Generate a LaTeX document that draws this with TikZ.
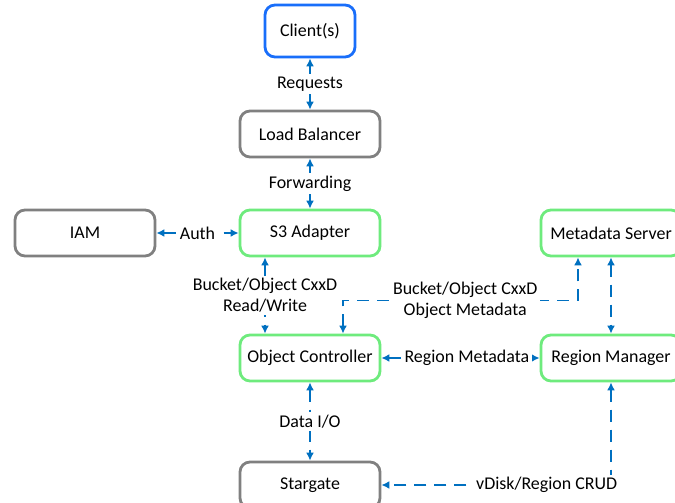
\documentclass[tikz,border=0pt]{standalone}
\usepackage{fontspec}
\setmainfont{Carlito}
\usetikzlibrary{arrows.meta}
\definecolor{linkblue}{RGB}{0,112,192}
\definecolor{boxgrey}{RGB}{128,128,128}
\definecolor{boxgreen}{RGB}{110,235,125}
\definecolor{boxblue}{RGB}{25,110,250}

\begin{document}
\begin{tikzpicture}[x=1bp, y=-1bp, font=\fontsize{18}{21}\selectfont,
  box/.style={draw, rounded corners=10bp, line width=2.8bp, minimum width=140bp,
    minimum height=46bp, inner sep=0pt, fill=white},
  greybox/.style={box, draw=boxgrey},
  greenbox/.style={box, draw=boxgreen},
  link/.style={linkblue, line width=1.7bp, dash pattern=on 12bp off 8bp,
    {Latex[length=8bp,width=8bp]}-{Latex[length=8bp,width=8bp]}},
  shortlink/.style={link, solid},
  lbl/.style={fill=white, inner sep=2.5bp, align=center, text=black}]
% Canvas
\useasboundingbox[fill=white] (0,0) rectangle (675,503);

% The boxes
\node[box, draw=boxblue, minimum width=90bp, minimum height=52bp] (client) at (310,31) {Client(s)};
\node[greybox] (lb) at (310,134) {Load Balancer};
\node[greybox] (iam) at (85,233) {IAM};
\node[greenbox] (s3) at (310,233) {S3 Adapter};
\node[greenbox] (ms) at (611,233) {Metadata Server};
\node[greenbox] (oc) at (310,358) {Object Controller};
\node[greenbox] (rm) at (611,358) {Region Manager};
\node[greybox] (sg) at (310,485) {Stargate};

% Request path
\draw[shortlink] (client) -- node[lbl] (req) {Requests} (lb);
\draw[shortlink] (lb) -- node[lbl] (fwd) {Forwarding} (s3);
\draw[link] (iam) -- node[lbl] (auth) {Auth} (s3);

% Controller links
\draw[link] ([xshift=-45bp]s3.south) -- node[lbl] (rw) {Bucket/Object CxxD\\Read/Write} ([xshift=-45bp]oc.north);
\draw[link] ([xshift=33bp]oc.north) -- ++(0,-33) -| node[lbl, pos=0.26] (objmeta) {Bucket/Object CxxD\\Object Metadata} ([xshift=-33bp]ms.south);
\draw[link] (oc) -- node[lbl, pos=0.54] (regmeta) {Region Metadata} (rm);
\draw[link] (ms) -- (rm);

% Data path
\draw[link] (oc) -- node[lbl] (dataio) {Data I/O} (sg);
\draw[link] (rm.south) |- node[lbl, pos=0.64] (crud) {vDisk/Region CRUD} (sg.east);
\end{tikzpicture}
\end{document}
